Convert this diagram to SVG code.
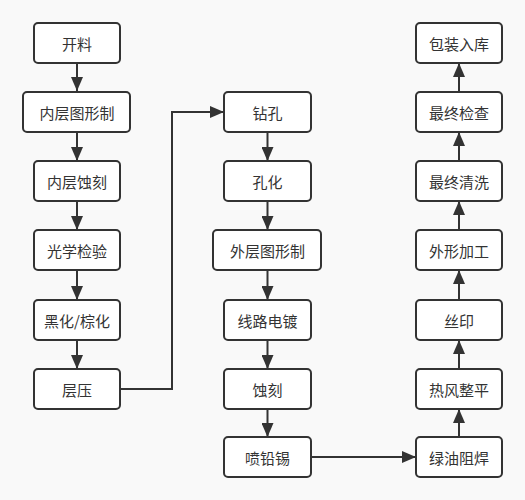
<svg xmlns="http://www.w3.org/2000/svg" width="525" height="500" viewBox="0 0 525 500">
<style>
.box{fill:#ffffff;stroke:#333333;stroke-width:2}
.lbl{font-family:"Noto Sans CJK SC","Noto Sans",sans-serif;font-size:15px;fill:#333333;text-anchor:middle;dominant-baseline:central}
.edge{fill:none;stroke:#333333;stroke-width:2}
</style>
<defs>
<marker id="arr" markerUnits="userSpaceOnUse" markerWidth="14" markerHeight="12" refX="14" refY="6" orient="auto">
<path d="M0,0 L14,6 L0,12 Z" fill="#333333"/>
</marker>
</defs>
<rect width="525" height="500" fill="#f9f9f9"/>
<g id="connectors">
<path class="edge" marker-end="url(#arr)" d="M77,63 V91"/>
<path class="edge" marker-end="url(#arr)" d="M77,132 V161"/>
<path class="edge" marker-end="url(#arr)" d="M77,201 V230"/>
<path class="edge" marker-end="url(#arr)" d="M77,270 V300"/>
<path class="edge" marker-end="url(#arr)" d="M77,340 V369"/>
<path class="edge" marker-end="url(#arr)" d="M120,389 H172 V112 H224"/>
<path class="edge" marker-end="url(#arr)" d="M267.5,132 V161"/>
<path class="edge" marker-end="url(#arr)" d="M267.5,201 V230"/>
<path class="edge" marker-end="url(#arr)" d="M267.5,270 V300"/>
<path class="edge" marker-end="url(#arr)" d="M267.5,340 V369"/>
<path class="edge" marker-end="url(#arr)" d="M267.5,409 V437"/>
<path class="edge" marker-end="url(#arr)" d="M311,457 H416"/>
<path class="edge" marker-end="url(#arr)" d="M459,437 V409"/>
<path class="edge" marker-end="url(#arr)" d="M459,369 V340"/>
<path class="edge" marker-end="url(#arr)" d="M459,300 V270"/>
<path class="edge" marker-end="url(#arr)" d="M459,230 V201"/>
<path class="edge" marker-end="url(#arr)" d="M459,161 V132"/>
<path class="edge" marker-end="url(#arr)" d="M459,92 V63"/>
</g>
<g id="n1"><rect class="box" x="34" y="23" width="86" height="40" rx="4"/><text class="lbl" x="77" y="43">开料</text></g>
<g id="n2"><rect class="box" x="23" y="92" width="107" height="40" rx="4"/><text class="lbl" x="77" y="112">内层图形制</text></g>
<g id="n3"><rect class="box" x="34" y="161" width="86" height="40" rx="4"/><text class="lbl" x="77" y="181">内层蚀刻</text></g>
<g id="n4"><rect class="box" x="34" y="230" width="86" height="40" rx="4"/><text class="lbl" x="77" y="250">光学检验</text></g>
<g id="n5"><rect class="box" x="34" y="300" width="86" height="40" rx="4"/><text class="lbl" x="77" y="320">黑化/棕化</text></g>
<g id="n6"><rect class="box" x="34" y="369" width="86" height="40" rx="4"/><text class="lbl" x="77" y="389">层压</text></g>
<g id="n7"><rect class="box" x="224" y="92" width="87" height="40" rx="4"/><text class="lbl" x="267.5" y="112">钻孔</text></g>
<g id="n8"><rect class="box" x="224" y="161" width="87" height="40" rx="4"/><text class="lbl" x="267.5" y="181">孔化</text></g>
<g id="n9"><rect class="box" x="213" y="230" width="108" height="40" rx="4"/><text class="lbl" x="267.5" y="250">外层图形制</text></g>
<g id="n10"><rect class="box" x="224" y="300" width="87" height="40" rx="4"/><text class="lbl" x="267.5" y="320">线路电镀</text></g>
<g id="n11"><rect class="box" x="224" y="369" width="87" height="40" rx="4"/><text class="lbl" x="267.5" y="389">蚀刻</text></g>
<g id="n12"><rect class="box" x="224" y="437" width="87" height="40" rx="4"/><text class="lbl" x="267.5" y="457">喷铅锡</text></g>
<g id="n13"><rect class="box" x="416" y="437" width="86" height="40" rx="4"/><text class="lbl" x="459" y="457">绿油阻焊</text></g>
<g id="n14"><rect class="box" x="416" y="369" width="86" height="40" rx="4"/><text class="lbl" x="459" y="389">热风整平</text></g>
<g id="n15"><rect class="box" x="416" y="300" width="86" height="40" rx="4"/><text class="lbl" x="459" y="320">丝印</text></g>
<g id="n16"><rect class="box" x="416" y="230" width="86" height="40" rx="4"/><text class="lbl" x="459" y="250">外形加工</text></g>
<g id="n17"><rect class="box" x="416" y="161" width="86" height="40" rx="4"/><text class="lbl" x="459" y="181">最终清洗</text></g>
<g id="n18"><rect class="box" x="416" y="92" width="86" height="40" rx="4"/><text class="lbl" x="459" y="112">最终检查</text></g>
<g id="n19"><rect class="box" x="416" y="23" width="86" height="40" rx="4"/><text class="lbl" x="459" y="43">包装入库</text></g>
</svg>
